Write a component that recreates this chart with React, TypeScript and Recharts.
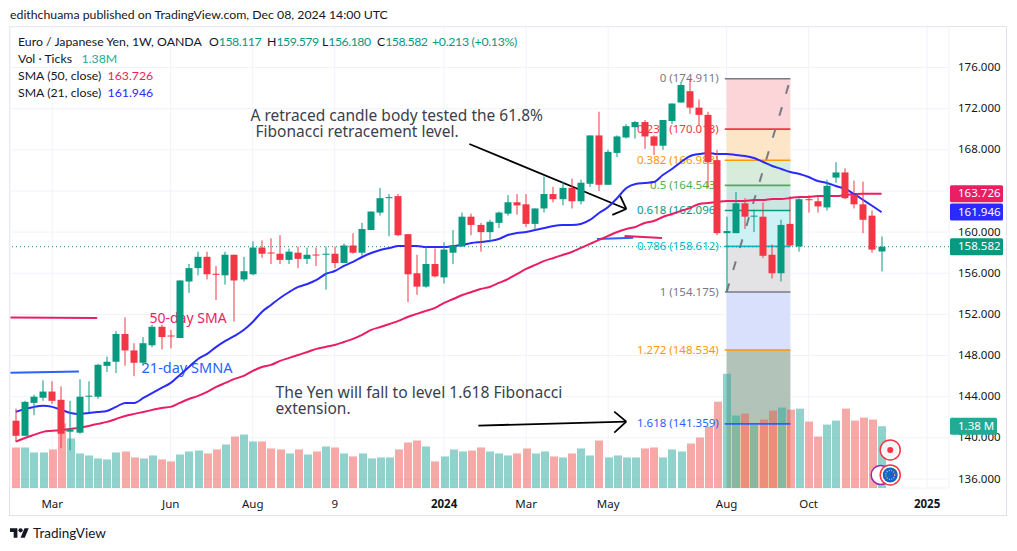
import React from "react";
import { ComposedChart, Bar, Line, XAxis, YAxis, CartesianGrid, ReferenceArea, ReferenceLine, ReferenceDot } from "recharts";

const FONT = "'Noto Sans', sans-serif";
const UI_FONT = "Lato, 'Noto Sans', sans-serif";
const RED = "#f23645";
const GREEN = "#089981";
const PINK = "#e91e63";
const BLUE = "#2a2aff";

const opens = [141.67,140.2,143.4,143.9,144.5,143.7,140.6,140.5,144,144,147,147.4,150.1,148.5,147.3,149,150.8,149.95,149.7,155.2,156.5,157.6,155.95,155.8,157.8,155.4,155.9,158.5,158.02,157.9,157.3,158,157.4,157.82,157.8,157.9,157,158.7,158,160.2,161.9,163.3,163.5,159.8,156,154.7,156.9,155.6,158,158.6,161.5,160.7,160,160.9,161.8,162.9,162.7,160.8,162.3,163.7,163.2,164.3,163,164.7,169.4,164.6,167.7,169.2,170.2,170.7,169.3,168.4,170.8,172.6,173.7,172.1,171.4,167,159.9,159.9,162.8,161.5,161.5,157.8,156,160.8,158.6,163.2,163,162.4,165.3,165.8,163.6,162.7,161.6,158.117];
const highs = [142.83,143.6,144.2,145.6,145.5,145,143.6,145.7,145.5,147.2,147.9,150.4,151.7,149.2,149.8,151,151,150.5,155.3,156.9,158.1,158.1,156.7,158.1,157.8,157.6,159.1,159.2,159.4,159.7,158.4,158.6,158.5,158.5,158.6,158.6,158.9,159.9,160.9,162,164.3,163.7,163.7,159.8,157.8,158.6,158.4,159,160.2,161.9,161.8,160.9,161.2,162,163.6,163.7,163.7,162.3,165.4,164.4,164.9,165.2,165.1,169.4,171.7,168,169.4,170.5,170.8,170.9,169.4,170.9,172.5,174.6,174.911,172.9,171.7,168,161.5,163.9,163.3,162.2,162.9,158.8,161.2,163.5,163.3,163.6,163.6,165.1,166.8,166.2,165,164.9,162.1,159.579];
const lows = [139.6,140.2,142.2,143.6,143.3,139,138.8,140.4,142.5,143.8,146.4,146.3,147,146,147,148.8,148.6,148.7,149.7,154.1,155.8,155.4,153.4,154.9,151.3,155.2,155.8,157.5,156.9,156.9,156.9,156.5,156.9,156.7,154.4,156.5,157,157.9,157.7,160.2,161.6,159.6,159.6,153.2,153.9,154.6,155.6,155,156.9,158.6,159.7,158.1,159,160.4,161.6,161.7,160.5,160.2,161.9,162.9,162.6,162.3,162.7,164.4,164,164.6,167.3,169.1,169.1,168.1,167.5,168,170.5,172.6,171.5,170.4,164.3,159.7,154.175,159.9,160.3,160,157.5,155.5,155.2,158.6,158.1,161.9,161.9,162.1,164.8,163.2,162.3,159.9,158,156.18];
const closes = [140.2,143.5,144,144.5,143.6,140.4,140.8,144,144.1,147.1,147.4,150.1,148.5,147.3,149.2,150.8,149.8,149.85,155.3,156.5,157.6,155.9,155.85,157.8,155.3,156.2,158.5,157.9,157.98,157.3,158.1,157.4,157.8,157.78,157.9,157,158.7,158,160.3,162,163.3,163.4,159.7,155.9,154.7,156.9,155.7,158.3,158.7,161.5,160.7,160,161,161.9,162.9,162.6,160.8,162.3,163.7,163.2,164.3,163,164.8,169.4,164.6,167.8,169.3,170.3,170.7,169.3,168.4,170.9,172.5,174.3,172.1,171.4,166.8,159.9,160.1,162.8,161.5,161.6,157.7,156,160.7,158.7,163.2,163.1,162.5,164.5,165.8,163.3,162.7,161.2,158.3,158.582];
const volumes = [0.905,0.905,0.794,0.794,0.861,1.44,1.106,0.772,0.727,0.66,0.638,0.794,0.816,0.683,0.66,0.727,0.638,0.594,0.749,0.816,0.838,0.772,0.861,0.972,1.15,1.195,1.039,1.039,0.883,0.861,0.772,0.861,0.749,0.816,0.928,0.905,0.772,0.705,0.772,0.66,0.683,0.683,0.861,1.017,1.061,0.928,0.594,0.705,0.861,0.816,0.838,0.905,0.816,0.772,0.727,0.772,0.883,0.772,0.816,0.705,0.683,0.772,0.883,0.727,1.061,0.683,0.727,0.683,0.683,0.883,0.905,0.683,0.861,0.816,0.994,1.128,1.373,1.929,2.552,1.618,1.662,1.417,1.529,1.729,1.796,1.751,1.773,1.484,1.15,1.417,1.506,1.773,1.506,1.573,1.529,1.38];
const sma21 = [142.52,142.82,143.01,143.11,143.01,142.72,142.42,142.33,142.42,142.52,142.62,143.01,143.4,143.4,143.88,144.37,144.85,145.34,146.12,146.89,147.67,148.16,148.84,149.42,149.91,150.49,151.27,152.24,152.92,153.6,154.18,154.67,154.96,155.35,155.93,156.22,156.71,157.1,157.58,157.97,158.26,158.46,158.65,158.65,158.65,158.55,158.55,158.55,158.65,158.75,158.94,159.04,159.14,159.33,159.72,159.92,160.01,160.21,160.4,160.6,160.69,160.69,160.79,161.18,161.86,162.44,163.32,164.29,164.68,164.78,164.87,165.55,166.14,166.82,167.4,167.59,167.69,167.59,167.59,167.5,167.4,167.2,166.82,166.43,166.14,165.84,165.65,165.36,164.97,164.78,164.48,164.19,163.7,163.12,162.54,161.946];
const sma50 = [139.63,139.99,140.29,140.58,140.68,140.77,140.87,140.97,141.16,141.36,141.55,141.84,142.13,142.33,142.52,142.72,142.91,143.01,143.4,143.78,144.08,144.47,144.95,145.34,145.73,146.02,146.51,146.89,147.09,147.48,147.77,148.06,148.35,148.65,148.84,149.03,149.32,149.62,150.01,150.49,150.78,151.07,151.37,151.75,152.05,152.34,152.63,153.12,153.5,153.89,154.18,154.47,154.67,155.06,155.44,155.93,156.42,156.81,157.2,157.49,157.78,158.07,158.46,158.85,159.24,159.63,160.01,160.31,160.5,160.89,161.08,161.47,161.76,162.06,162.35,162.74,162.83,162.93,163.03,163.03,163.03,163.12,163.12,163.22,163.22,163.32,163.42,163.42,163.51,163.51,163.51,163.61,163.7,163.72,163.72,163.726];

const timeTicks = [4, 17, 26, 35, 47, 56, 65, 78, 87, 100];
const timeLabels = ["Mar", "Jun", "Aug", "9", "2024", "Mar", "May", "Aug", "Oct", "2025"];
const boldLabels = ["2024", "2025"];
const priceTicks = [136, 140, 144, 148, 152, 156, 160, 164, 168, 172, 176];
const coveredPriceTicks = [164];

const fibLevels = ["0", "0.236", "0.382", "0.5", "0.618", "0.786", "1", "1.272", "1.618"];
const fibPrices = [174.911, 170.013, 166.983, 164.543, 162.096, 158.612, 154.175, 148.534, 141.359];
const fibColors = ["#787b86", "#f23645", "#ff9800", "#4caf50", "#089981", "#00bcd4", "#787b86", "#ff9800", "#2962ff"];
const fibFills = ["#fbd5d8", "#fde5c8", "#d9ecdc", "#cbe5e0", "#ccf2f6", "#e3e3e5", "#d8e0fb", "#b2c4ba", "#ebc9a4"];
const FIB_START = 78;
const FIB_END = 85;
const PRICE_FLOOR = 135.125;
const PRICE_CEIL = 179.94;

const ohlcLabels = ["O", "H", "L", "C"];
const ohlcValues = ["158.117", "159.579", "156.180", "158.582"];
const ohlcLeft = [209, 267, 322, 377];

const notes = [
  { i: 25.75, p: 171.19, text: "A retraced candle body tested the 61.8%", color: "#3b3f4c", size: 15.5 },
  { i: 26.3, p: 169.63, text: "Fibonacci retracement level.", color: "#3b3f4c", size: 15.5 },
  { i: 28.5, p: 144.27, text: "The Yen will fall to level 1.618 Fibonacci", color: "#3b3f4c", size: 15.7 },
  { i: 28.5, p: 142.72, text: "extension.", color: "#3b3f4c", size: 15.5 },
  { i: 14.67, p: 151.56, text: "50-day SMA", color: PINK, size: 14 },
  { i: 13.8, p: 146.7, text: "21-day SMNA", color: "#2962ff", size: 14.5 },
];

const arrows = [
  [[49.77, 168.57], [66.99, 162.25]],
  [[66.33, 163.51], [66.99, 162.25]],
  [[65.46, 161.67], [66.99, 162.25]],
  [[50.76, 141.19], [66.99, 141.58]],
  [[65.67, 142.55], [66.99, 141.58]],
  [[65.67, 140.51], [66.99, 141.58]],
];
const stubs = [
  { color: PINK, from: [-0.58, 151.7], to: [8.93, 151.66] },
  { color: "#2962ff", from: [-0.58, 146.34], to: [6.93, 146.44] },
  { color: "#2962ff", from: [63.78, 159.33], to: [67.76, 159.46] },
  { color: PINK, from: [66.8, 159.62], to: [70.9, 159.43] },
];

const table = opens.map((o, i) => ({
  i, o, h: highs[i], l: lows[i], c: closes[i], vol: volumes[i], s21: sma21[i], s50: sma50[i],
}));

const Candle = (props: any) => {
  const { x, y, width, height, payload } = props;
  const { o, h, l, c } = payload;
  const k = height / (h - l);
  const yo = y + (h - o) * k;
  const yc = y + (h - c) * k;
  const color = c >= o ? GREEN : RED;
  const cx = Math.round(x + width / 2);
  const top = Math.min(yo, yc);
  return (
    <g>
      <rect x={cx - 0.5} y={y} width={1} height={height} fill={color} />
      <rect x={cx - 3.5} y={top} width={7} height={Math.max(1, Math.abs(yo - yc))} fill={color} />
    </g>
  );
};

const VolBar = (props: any) => {
  const { x, y, width, height, payload } = props;
  const cx = Math.round(x + width / 2);
  return <rect x={cx - 4} y={y} width={8} height={height} fill={payload.c >= payload.o ? "rgba(38,166,154,0.5)" : "rgba(239,83,80,0.5)"} />;
};

const TimeTick = (props: any) => {
  const { x, y, payload } = props;
  const label = timeLabels[timeTicks.indexOf(payload.value)];
  const bold = boldLabels.includes(label);
  return (
    <text x={x} y={y + 9} textAnchor="middle" dominantBaseline="middle" fontFamily={FONT} fontSize={11.5} fontWeight={bold ? 700 : 400} fill="#131722">
      {label}
    </text>
  );
};

const PriceTick = (props: any) => {
  const { x, y, payload } = props;
  if (coveredPriceTicks.includes(payload.value)) return <g />;
  return (
    <text x={x} y={y + 0.5} textAnchor="start" dominantBaseline="middle" fontFamily={FONT} fontSize={11.5} fill="#131722">
      {payload.value.toFixed(3)}
    </text>
  );
};

const tagShape = (label: string, bg: string, width = 53) => (props: any) => {
  const right = Math.max(props.x1, props.x2);
  return (
    <g>
      <rect x={right + 1} y={props.y1 - 8.5} width={width} height={17} rx={1.5} fill={bg} />
      <text x={right + 9} y={props.y1 + 0.5} dominantBaseline="middle" fontFamily={FONT} fontSize={11.5} fill="#fff">{label}</text>
    </g>
  );
};

const fibShape = (level: string, price: number, color: string) => (props: any) => (
  <g>
    <line x1={props.x1} y1={props.y1} x2={props.x2} y2={props.y2} stroke={color} strokeWidth={1.6} />
    <text x={props.x1 - 6} y={props.y1 + 0.5} textAnchor="end" dominantBaseline="middle" fontFamily={FONT} fontSize={11.5} fill={color}>
      {`${level} (${price.toFixed(3)})`}
    </text>
  </g>
);

const noteShape = (text: string, color: string, size: number) => (props: any) => (
  <text x={props.cx} y={props.cy} dominantBaseline="middle" fontFamily={FONT} fontSize={size} fill={color}>{text}</text>
);

const RedEvent = (props: any) => (
  <g>
    <circle cx={props.cx} cy={props.cy} r={10} fill="#fff" stroke={RED} strokeWidth={1.5} />
    <circle cx={props.cx} cy={props.cy} r={7.5} fill="#f5f5f7" />
    <circle cx={props.cx} cy={props.cy} r={3} fill={RED} />
  </g>
);
const PurpleEvent = (props: any) => (
  <circle cx={props.cx} cy={props.cy} r={9.5} fill="#fff" stroke="#9c27b0" strokeWidth={1.5} />
);
const EuEvent = (props: any) => (
  <g>
    <circle cx={props.cx} cy={props.cy} r={10} fill="#fff" stroke={RED} strokeWidth={1.5} />
    <circle cx={props.cx} cy={props.cy} r={7.5} fill="#1565c0" />
    <circle cx={props.cx} cy={props.cy} r={4.5} fill="none" stroke="#f9c937" strokeWidth={1.2} strokeDasharray="1 1.4" />
  </g>
);

const txt = { position: "absolute", fontFamily: UI_FONT, whiteSpace: "pre", lineHeight: "16px", fontSize: 12.3, color: "#131722" } as any;

export default function App() {
  return (
    <div style={{ position: "fixed", left: 0, top: 0, width: 1017, height: 551, background: "#fff", overflow: "hidden" }}>
      <div style={{ ...txt, left: 10, top: 7 }}>edithchuama published on TradingView.com, Dec 08, 2024 14:00 UTC</div>
      <div style={{ position: "absolute", left: 9, top: 26, width: 996, height: 488, border: "1.5px solid #e0e3eb" }} />
      <div style={{ position: "absolute", left: 0, top: 0 }}>
        <ComposedChart width={1017} height={551} data={table} margin={{ top: 27, right: 11, bottom: 36, left: 10 }}>
          <CartesianGrid stroke="#f0f3fa" strokeWidth={1} />
          <XAxis dataKey="i" type="number" domain={[-0.636, 102.4]} allowDataOverflow ticks={timeTicks} interval={0} axisLine={false} tickLine={false} height={27} tick={<TimeTick />} />
          <XAxis xAxisId="v" dataKey="i" type="number" domain={[-0.636, 102.4]} allowDataOverflow hide />
          <YAxis orientation="right" width={57} domain={[PRICE_FLOOR, PRICE_CEIL]} allowDataOverflow ticks={priceTicks} interval={0} axisLine={false} tickLine={false} tickMargin={3} tick={<PriceTick />} />
          <YAxis yAxisId="v" hide domain={[0, 10.3]} allowDataOverflow />

          {fibFills.map((fill, k) => (
            <ReferenceArea key={k} x1={FIB_START} x2={FIB_END} y1={fibPrices[k]} y2={k + 1 < fibPrices.length ? fibPrices[k + 1] : PRICE_FLOOR} fill={fill} fillOpacity={1} stroke="none" zIndex={50} />
          ))}

          <Bar xAxisId="v" yAxisId="v" dataKey="vol" barSize={8} isAnimationActive={false} shape={<VolBar />} zIndex={100} />

          {fibLevels.map((lv, k) => (
            <ReferenceLine key={lv} segment={[{ x: FIB_START - 0.2, y: fibPrices[k] }, { x: FIB_END, y: fibPrices[k] }]} shape={fibShape(lv, fibPrices[k], fibColors[k])} zIndex={150} />
          ))}
          <ReferenceLine segment={[{ x: FIB_START, y: fibPrices[6] }, { x: FIB_END, y: fibPrices[0] }]} stroke="#787b86" strokeWidth={2} strokeDasharray="9 14" zIndex={150} />
          {notes.map((n) => (
            <ReferenceDot key={n.text} x={n.i} y={n.p} r={0} shape={noteShape(n.text, n.color, n.size)} zIndex={150} />
          ))}
          {arrows.map((a, k) => (
            <ReferenceLine key={k} segment={[{ x: a[0][0], y: a[0][1] }, { x: a[1][0], y: a[1][1] }]} stroke="#000" strokeWidth={1.8} zIndex={150} />
          ))}
          {stubs.map((s, k) => (
            <ReferenceLine key={k} segment={[{ x: s.from[0], y: s.from[1] }, { x: s.to[0], y: s.to[1] }]} stroke={s.color} strokeWidth={2} zIndex={150} />
          ))}
          <ReferenceLine y={closes[closes.length - 1]} stroke={GREEN} strokeDasharray="1 3" zIndex={160} />

          <Line type="monotone" dataKey="s50" stroke={PINK} strokeWidth={2} dot={false} isAnimationActive={false} zIndex={200} />
          <Line type="monotone" dataKey="s21" stroke={BLUE} strokeWidth={2} dot={false} isAnimationActive={false} zIndex={200} />
          <Bar dataKey={(d: any) => [d.l, d.h]} barSize={7} isAnimationActive={false} shape={<Candle />} zIndex={300} />

          <ReferenceLine y={sma50[95]} stroke="none" shape={tagShape(sma50[95].toFixed(3), PINK)} zIndex={2000} />
          <ReferenceLine y={sma21[95]} stroke="none" shape={tagShape(sma21[95].toFixed(3), BLUE)} zIndex={2000} />
          <ReferenceLine y={closes[95]} stroke="none" shape={tagShape(closes[95].toFixed(3), GREEN)} zIndex={2000} />
          <ReferenceLine yAxisId="v" y={volumes[95]} stroke="none" shape={tagShape("1.38 M", "#22ab94", 47)} zIndex={2000} />

          <ReferenceDot x={94.9} y={136.4} r={0} shape={<PurpleEvent />} zIndex={2100} />
          <ReferenceDot x={95.95} y={138.83} r={0} shape={<RedEvent />} zIndex={2100} />
          <ReferenceDot x={95.95} y={136.4} r={0} shape={<EuEvent />} zIndex={2100} />
        </ComposedChart>
      </div>

      <div style={{ ...txt, left: 18, top: 34 }}>Euro / Japanese Yen, 1W, OANDA</div>
      {ohlcLabels.map((lab, k) => (
        <div key={lab} style={{ ...txt, left: ohlcLeft[k], top: 34 }}>
          {lab}<span style={{ color: GREEN, letterSpacing: -0.5 }}>{ohlcValues[k]}</span>
        </div>
      ))}
      <div style={{ ...txt, left: 432, top: 34, color: GREEN, letterSpacing: -0.3 }}>+0.213 (+0.13%)</div>
      <div style={{ ...txt, left: 18, top: 51 }}>
        {"Vol · Ticks   "}<span style={{ color: "#22ab94" }}>1.38M</span>
      </div>
      <div style={{ ...txt, left: 18, top: 68 }}>
        {"SMA (50, close)  "}<span style={{ color: PINK }}>163.726</span>
      </div>
      <div style={{ ...txt, left: 18, top: 85 }}>
        {"SMA (21, close)  "}<span style={{ color: BLUE }}>161.946</span>
      </div>

      <svg style={{ position: "absolute", left: 10, top: 526 }} width={19} height={15} viewBox="0 0 36 28" fill="#131722">
        <path d="M14 22H7V11H0V4h14v18zM28 22h-8l7.5-18h8L28 22z" />
        <circle cx="20" cy="8" r="4" />
      </svg>
      <div style={{ ...txt, left: 33, top: 525, fontSize: 13.5 }}>TradingView</div>
    </div>
  );
}
